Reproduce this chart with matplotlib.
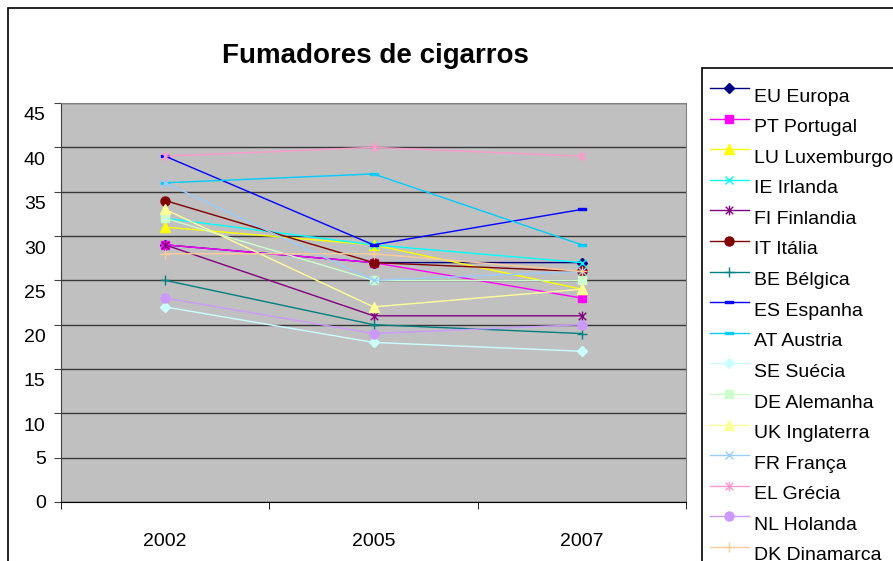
import matplotlib
matplotlib.use('Agg')
import matplotlib.pyplot as plt
from matplotlib.lines import Line2D
from matplotlib.patches import Rectangle
from matplotlib.path import Path
from matplotlib.transforms import ScaledTranslation

plt.rcParams['font.family'] = ['Liberation Sans', 'DejaVu Sans']

years = ['2002', '2005', '2007']
countries = ['EU Europa', 'PT Portugal', 'LU Luxemburgo', 'IE Irlanda', 'FI Finlandia',
             'IT Itália', 'BE Bélgica', 'ES Espanha', 'AT Austria', 'SE Suécia',
             'DE Alemanha', 'UK Inglaterra', 'FR França', 'EL Grécia', 'NL Holanda',
             'DK Dinamarca']
eu = [29, 27, 27]
pt = [29, 27, 23]
lu = [31, 29, 24]
ie = [32, 29, 27]
fi = [29, 21, 21]
it = [34, 27, 26]
be = [25, 20, 19]
es = [39, 29, 33]
at = [36, 37, 29]
se = [22, 18, 17]
de = [32, 25, 25]
uk = [33, 22, 24]
fr = [36, 25, 26]
el = [39, 40, 39]
nl = [23, 19, 20]
dk = [28, 28, 26]
values = [eu, pt, lu, ie, fi, it, be, es, at, se, de, uk, fr, el, nl, dk]

# excel style markers
star = Path([(-1, -1), (1, 1), (-1, 1), (1, -1), (0, -1.3), (0, 1.3)],
            [Path.MOVETO, Path.LINETO] * 3)
dash = Path([(-1, -0.35), (1, -0.35), (1, 0.35), (-1, 0.35), (-1, -0.35)],
            [Path.MOVETO, Path.LINETO, Path.LINETO, Path.LINETO, Path.CLOSEPOLY])

colors = ['#000080', '#FF00FF', '#FFFF00', '#00FFFF', '#800080', '#800000', '#008080',
          '#0000FF', '#00CCFF', '#CCFFFF', '#CCFFCC', '#FFFF99', '#99CCFF', '#FF99CC',
          '#CC99FF', '#FFCC99']
markers = ['D', 's', '^', 'x', star, 'o', '+', dash, dash, 'D', 's', '^', 'x', star, 'o', '+']
msizes = [5.5, 6, 7, 6, 7, 6.5, 7, 5.5, 5.5, 5.5, 6, 7, 6, 7, 6.5, 7]

W, H = 893, 561
fig = plt.figure(figsize=(W / 100, H / 100), dpi=100)
ax = fig.add_axes([61 / W, 1 - 502 / H, (686 - 61) / W, (502 - 103) / H])
ax.set_facecolor('#C0C0C0')

x = list(range(len(years)))
for i in range(len(countries)):
    m = markers[i]
    open_marker = m in ('x', '+') or m is star
    ax.plot(x, values[i], color=colors[i], lw=1.0, marker=m, ms=msizes[i],
            mfc='none' if open_marker else colors[i], mec=colors[i], mew=1.0,
            clip_on=False, zorder=3 + i)

ax.set_ylim(0, 45)
ax.set_yticks(range(0, 46, 5))
ax.set_xlim(-0.5, 2.5)
ax.set_xticks(x)
ax.set_xticklabels(years)
ax.set_xticks([-0.5, 0.5, 1.5, 2.5], minor=True)
ax.tick_params(axis='x', which='major', length=0, pad=22, labelsize=14)
ax.tick_params(axis='x', which='minor', length=5, direction='out', color='black')
ax.tick_params(axis='y', length=5, direction='out', pad=6, labelsize=14, color='#404040')
ax.yaxis.grid(True, color='#383838', lw=1.0)
ax.set_axisbelow(True)
for s in ['top', 'right']:
    ax.spines[s].set_color('#808080')
ax.spines['left'].set_color('#404040')
ax.spines['bottom'].set_color('black')

# excel draws the y labels a bit low
for lab, v in zip(ax.get_yticklabels(), range(0, 46, 5)):
    if v > 5:
        lab.set_transform(lab.get_transform() + ScaledTranslation(0, -0.11, fig.dpi_scale_trans))

fig.text(375 / W, 1 - 56 / H, 'Fumadores de cigarros', ha='center', va='center',
         fontsize=20, fontweight='bold')

# outer frame and legend box
fig.add_artist(Rectangle((8 / W, -0.1), 2, 1.1 - 8 / H, transform=fig.transFigure,
                         fill=False, ec='black', lw=1.2))
fig.add_artist(Rectangle((702 / W, -0.1), 2, 1.1 - 68 / H, transform=fig.transFigure,
                         fill=False, ec='black', lw=1.2))

for i, name in enumerate(countries):
    yt = 97 + i * 30.6
    yh = 1 - (yt - 9) / H
    fig.add_artist(Line2D([710 / W, 749 / W], [yh, yh], transform=fig.transFigure,
                          color=colors[i], lw=1.0))
    m = markers[i]
    open_marker = m in ('x', '+') or m is star
    fig.add_artist(Line2D([729 / W], [yh], transform=fig.transFigure, color=colors[i],
                          marker=m, ms=msizes[i], mfc='none' if open_marker else colors[i],
                          mec=colors[i], mew=1.0, lw=0))
    fig.text(754 / W, 1 - yt / H, name, ha='left', va='center', fontsize=14)

fig.savefig('out.png', dpi=100)
